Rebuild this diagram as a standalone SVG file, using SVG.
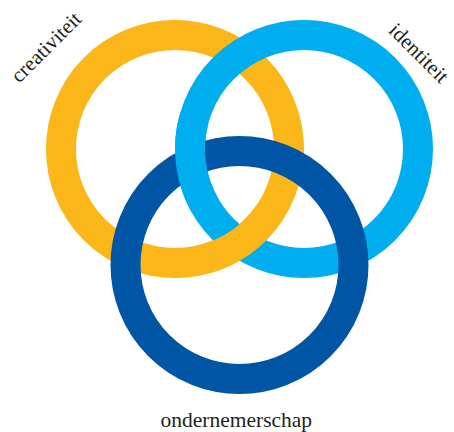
<svg xmlns="http://www.w3.org/2000/svg" width="454" height="432" viewBox="0 0 454 432">
  <style>
    .ring { fill: none; stroke-width: 30; stroke-linecap: butt; }
    .orange { stroke: #FBB619; }
    .light { stroke: #00AEEF; }
    .dark { stroke: #0055A5; }
    .label { font-family: "Liberation Serif", "Times New Roman", serif; font-size: 21px; fill: #231F20; text-anchor: middle; }
  </style>
  <rect width="454" height="432" fill="#ffffff"/>
  <g id="creativiteit">
    <circle class="ring orange" cx="175" cy="149" r="114"/>
    <text class="label" transform="translate(51 52) rotate(-45)" x="0" y="0">creativiteit</text>
  </g>
  <g id="identiteit">
    <circle class="ring light" cx="304" cy="149" r="114"/>
    <text class="label" transform="translate(414 58) rotate(45)" x="0" y="0">identiteit</text>
  </g>
  <g id="ondernemerschap">
    <circle class="ring dark" cx="239.5" cy="265" r="114"/>
    <text class="label" style="font-size:21.5px" x="236.3" y="426.5">ondernemerschap</text>
  </g>
  <g id="weave">
    <!-- over-crossings that complete the interlocking weave -->
    <path class="ring orange" d="M 268.38 214.39 A 114 114 0 0 1 204.51 259.12"/>
    <path class="ring light" d="M 205.27 206.00 A 114 114 0 0 1 193.88 119.49"/>
  </g>
</svg>
